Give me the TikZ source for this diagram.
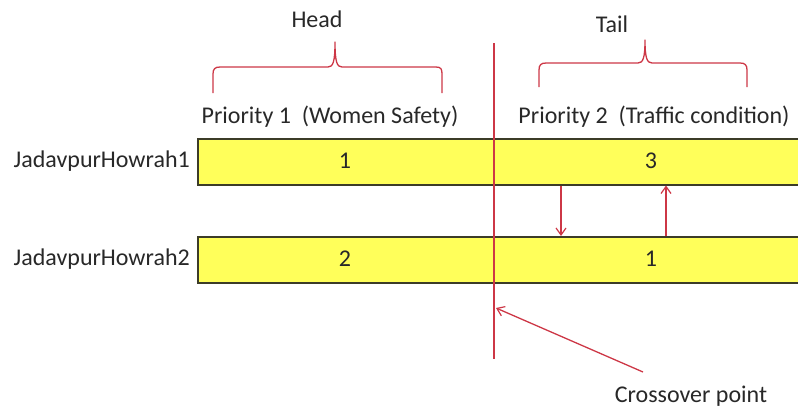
\documentclass[tikz,border=0pt]{standalone}
\usepackage{fontspec}
\setmainfont{Carlito}
\usetikzlibrary{arrows.meta,calc}
\definecolor{barfill}{RGB}{255,255,90}
\definecolor{barline}{RGB}{60,60,40}
\definecolor{redline}{RGB}{205,55,70}
\definecolor{txt}{RGB}{40,40,40}
\tikzset{
  bar/.style={draw=barline, line width=1.5pt, fill=barfill, minimum height=46pt, inner sep=0pt, anchor=north west},
  lbl/.style={font=\fontsize{24}{28}\selectfont, text=txt, inner sep=0pt},
  redl/.style={draw=redline, line width=1.3pt},
  redarrow/.style={redl, -{Straight Barb[length=7pt,width=10pt,line width=1.2pt]}}
}
\begin{document}
\begin{tikzpicture}[x=1pt,y=-1pt]
\useasboundingbox (0,0) rectangle (798,408);
% bars
\node[bar, minimum width=605pt] (r1) at (197,138) {};
\node[bar, minimum width=605pt] (r2) at (197,236) {};
% row labels
\node[lbl, anchor=east] (l1) at (190,161) {JadavpurHowrah1};
\node[lbl, anchor=east] (l2) at (190,259) {JadavpurHowrah2};
% values
\node[lbl] (v11) at (345,161) {1};
\node[lbl] (v12) at (651,161) {3};
\node[lbl] (v21) at (345,259) {2};
\node[lbl] (v22) at (651,259) {1};
% headings
\node[lbl] (p1) at (330,117) {Priority 1\ \ (Women Safety)};
\node[lbl] (p2) at (654,117) {Priority 2\ \ (Traffic condition)};
\node[lbl] (head) at (317,19) {Head};
\node[lbl] (tail) at (612,24) {Tail};
% braces
\draw[redl, line join=round] (213,93) -- (213,74) .. controls (213,69) and (215,67) .. (220,67)
  -- (328,67) .. controls (333,67) and (335,62) .. (335,42)
  .. controls (335,62) and (337,67) .. (342,67) -- (436,67)
  .. controls (441,67) and (442,69) .. (442,74) -- (442,93);
\draw[redl, line join=round] (539,87) -- (539,70) .. controls (539,65) and (541,63) .. (546,63)
  -- (638,63) .. controls (643,63) and (645,58) .. (645,40)
  .. controls (645,58) and (647,63) .. (652,63) -- (740,63)
  .. controls (745,63) and (747,65) .. (747,70) -- (747,87);
% crossover line
\coordinate (ctop) at (494,43);
\coordinate (cbot) at (494,359);
\draw[redl] (ctop) -- (cbot);
% swap arrows
\coordinate (xd) at (561,0);
\coordinate (xu) at (666,0);
\draw[redarrow] (r1.south -| xd) -- (r2.north -| xd);
\draw[redarrow] (r2.north -| xu) -- (r1.south -| xu);
% crossover label
\node[lbl] (cp) at (691,396) {Crossover point};
\coordinate (cs) at (643,372);
\coordinate (ce) at (496,308);
\draw[redarrow] (cs) -- (ce);
\end{tikzpicture}
\end{document}
